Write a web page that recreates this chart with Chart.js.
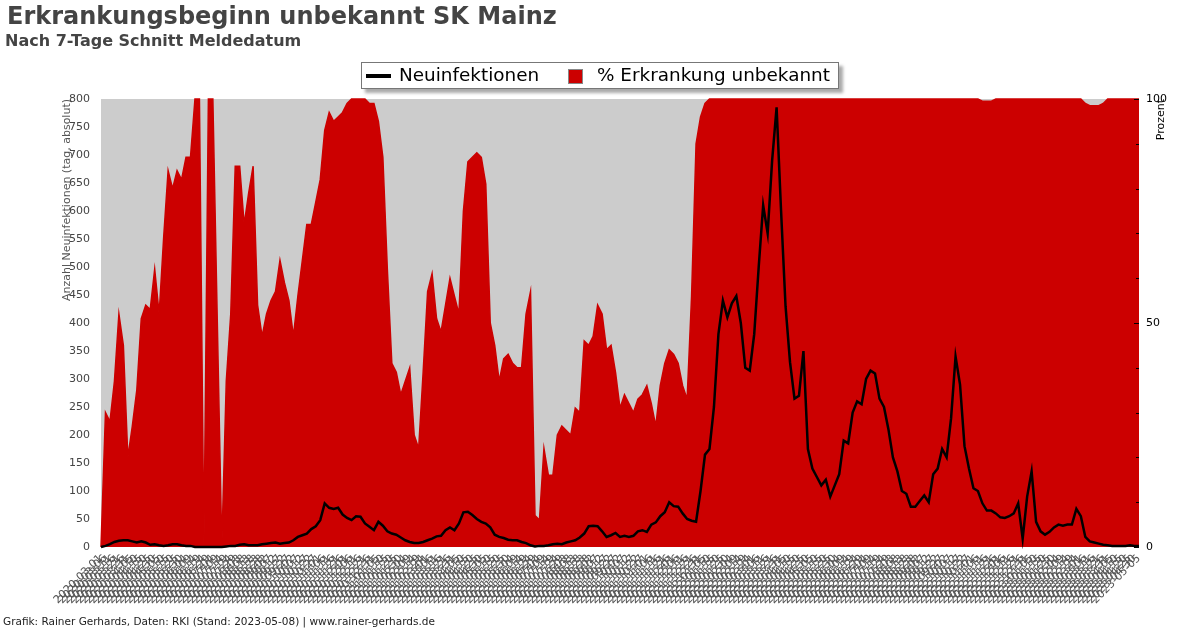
<!DOCTYPE html>
<html>
<head>
<meta charset="utf-8">
<script src="https://cdn.jsdelivr.net/npm/chart.js@4.4.1/dist/chart.umd.min.js"></script>
<style>
  html, body { margin: 0; padding: 0; background: #fff; }
  #wrap { position: relative; width: 1200px; height: 628px; overflow: hidden; font-family: "DejaVu Sans", sans-serif; }
  #chart { position: absolute; left: 0; top: 0; }
  .title { position: absolute; left: 7px; top: 2px; font-size: 24px; line-height: 28px; font-weight: bold; color: #444; white-space: nowrap; }
  .subtitle { position: absolute; left: 5px; top: 31px; font-size: 16px; line-height: 20px; font-weight: bold; color: #444; white-space: nowrap; }
  .footer { position: absolute; left: 3px; top: 615px; font-size: 10.5px; line-height: 12px; color: #222; white-space: nowrap; }
  .legend { position: absolute; left: 361px; top: 62px; width: 476px; height: 25px; background: #fff; border: 1px solid #777; box-shadow: 4px 4px 3px #aaa; font-size: 18.4px; color: #000; }
  .legend .ln { position: absolute; left: 4px; top: 11px; width: 25px; height: 4px; background: #000; }
  .legend .t1 { position: absolute; left: 37px; top: 1px; line-height: 22px; white-space: nowrap; }
  .legend .sq { position: absolute; left: 206px; top: 6px; width: 13px; height: 13px; background: #cc0000; border: 1px solid #888; }
  .legend .t2 { position: absolute; left: 235px; top: 1px; line-height: 22px; white-space: nowrap; }
</style>
</head>
<body>
<div id="wrap">
  <canvas id="chart" width="1200" height="628"></canvas>
  <div class="title">Erkrankungsbeginn unbekannt SK Mainz</div>
  <div class="subtitle">Nach 7-Tage Schnitt Meldedatum</div>
  <div class="legend">
    <div class="ln"></div><div class="t1">Neuinfektionen</div>
    <div class="sq"></div><div class="t2">% Erkrankung unbekannt</div>
  </div>
  <div class="footer">Grafik: Rainer Gerhards, Daten: RKI (Stand: 2023-05-08) | www.rainer-gerhards.de</div>
</div>
<script>
// ---- data (one point every 5 days) ----
const startDate = '2020-03-01';
const stepDays = 5;

const newInfections = [
  0, 2, 5, 9, 11, 12, 12, 10, 8, 10,
  8, 4, 5, 3, 2, 3, 5, 5, 3, 2,
  2, 0, 0, 0, 0, 0, 0, 0, 1, 2,
  2, 4, 5, 3, 3, 3, 5, 6, 7, 8,
  6, 7, 8, 12, 18, 21, 24, 32, 37, 48,
  78, 70, 68, 70, 58, 52, 48, 55, 54, 42,
  36, 30, 45, 38, 28, 24, 22, 17, 12, 9,
  7, 7, 9, 12, 15, 19, 20, 30, 35, 30,
  42, 62, 63, 57, 50, 45, 42, 35, 22, 18,
  16, 13, 12, 12, 9, 7, 3, 1, 2, 2,
  3, 5, 6, 5, 8, 10, 12, 17, 24, 37,
  38, 37, 28, 18, 21, 25, 18, 20, 18, 20,
  28, 30, 27, 40, 44, 55, 62, 80, 73, 72,
  60, 50, 47, 45, 100, 165, 175, 250, 380, 440,
  410, 435, 448, 400, 320, 315, 380, 500, 610, 560,
  690, 785, 600, 430, 330, 265, 270, 350, 175, 140,
  125, 110, 120, 90, 110, 130, 190, 185, 240, 260,
  255, 300, 315, 310, 265, 250, 210, 160, 135, 100,
  95, 72, 72, 82, 92, 80, 130, 140, 175, 160,
  230, 340, 290, 180, 140, 105, 100, 78, 65, 65,
  60, 53, 52, 55, 60, 78, 15, 90, 135, 45,
  28, 22, 27, 35, 40, 38, 40, 40, 68, 55,
  18, 10, 8, 6, 4, 3, 2, 2, 2, 2,
  3, 2, 2
];

const pctUnknown = [
  0, 30, 28, 37, 52, 45, 20, 27, 35, 51,
  54, 53, 62, 52, 69, 84, 80, 84, 82, 87,
  87, 100, 100, 0, 100, 100, 50, 0, 37, 52,
  85, 85, 72, 79, 85, 54, 47, 52, 55, 57,
  64, 59, 55, 47, 56, 64, 72, 72, 77, 82,
  93, 97, 95, 96, 97, 99, 100, 100, 100, 100,
  99, 99, 95, 87, 62, 41, 39, 34, 37, 40,
  25, 22, 39, 57, 61, 51, 48, 54, 60, 56,
  52, 75, 86, 87, 88, 87, 81, 50, 45, 37,
  42, 43, 41, 40, 40, 52, 57, 7, 6, 22,
  16, 16, 25, 27, 26, 25, 31, 30, 46, 45,
  47, 54, 52, 44, 45, 39, 31, 34, 32, 30,
  33, 34, 36, 32, 27, 36, 41, 44, 43, 41,
  36, 33, 56, 90, 96, 99, 100, 100, 100, 100,
  100, 100, 100, 100, 100, 100, 100, 100, 100, 100,
  100, 100, 100, 100, 100, 100, 100, 100, 100, 100,
  100, 100, 100, 100, 100, 100, 100, 100, 100, 100,
  100, 100, 100, 100, 100, 100, 100, 100, 100, 100,
  100, 100, 100, 100, 100, 100, 100, 100, 100, 100,
  100, 100, 100, 100, 100, 100, 100, 99.5, 99.5, 99.5,
  100, 100, 100, 100, 100, 100, 100, 100, 100, 100,
  100, 100, 100, 100, 100, 100, 100, 100, 100, 100,
  99, 98.5, 98.5, 98.5, 99, 100, 100, 100, 100, 100,
  100, 100, 100
];

// category labels: one date per data point
const dateLabels = [];
(function () {
  const d0 = new Date(startDate + 'T00:00:00Z');
  for (let i = 0; i < newInfections.length; i++) {
    const d = new Date(d0.getTime() + i * stepDays * 86400000);
    dateLabels.push(d.toISOString().slice(0, 10));
  }
})();

const leftTicks = [0, 50, 100, 150, 200, 250, 300, 350, 400, 450, 500, 550, 600, 650, 700, 750, 800];
const rightTickLabels = [0, 50, 100];

const plotPlugin = {
  id: 'plotExtras',
  beforeDatasetsDraw(chart) {
    const { ctx, chartArea: a } = chart;
    ctx.save();
    ctx.fillStyle = '#cccccc';
    ctx.fillRect(a.left, a.top, a.right - a.left, a.bottom - a.top);
    ctx.restore();
  },
  afterDatasetsDraw(chart) {
    const { ctx, chartArea: a } = chart;
    const y1 = chart.scales.y1;
    ctx.save();
    ctx.strokeStyle = '#000';
    ctx.lineWidth = 1;
    for (let v = 0; v <= 100; v += 10) {
      const y = Math.round(y1.getPixelForValue(v)) + 0.5;
      const len = v % 50 === 0 ? 5 : 3;
      ctx.beginPath();
      ctx.moveTo(a.right - len, y);
      ctx.lineTo(a.right, y);
      ctx.stroke();
    }
    ctx.translate(1161, a.top);
    ctx.rotate(-Math.PI / 2);
    ctx.textAlign = 'right';
    ctx.textBaseline = 'middle';
    ctx.font = '11px "DejaVu Sans"';
    ctx.fillStyle = '#000';
    ctx.fillText('Prozent', 0, 0);
    ctx.restore();
  }
};

new Chart(document.getElementById('chart'), {
  type: 'line',
  data: {
    labels: dateLabels,
    datasets: [
      {
        label: 'Neuinfektionen',
        data: newInfections,
        yAxisID: 'y',
        borderColor: '#000',
        backgroundColor: '#000',
        borderWidth: 2.5,
        pointRadius: 0,
        tension: 0,
        fill: false,
        clip: false
      },
      {
        label: '% Erkrankung unbekannt',
        data: pctUnknown,
        yAxisID: 'y1',
        borderColor: '#cc0000',
        backgroundColor: '#cc0000',
        borderWidth: 1.5,
        pointRadius: 0,
        tension: 0,
        fill: 'origin',
        clip: false
      }
    ]
  },
  options: {
    responsive: false,
    animation: false,
    devicePixelRatio: 1,
    layout: { padding: { top: 99, left: 0, right: 0, bottom: 0 } },
    plugins: {
      legend: { display: false },
      title: { display: false },
      tooltip: { enabled: false }
    },
    scales: {
      x: {
        type: 'category',
        offset: false,
        grid: { display: false, drawTicks: false },
        border: { display: false },
        ticks: {
          autoSkip: false,
          minRotation: 45,
          maxRotation: 45,
          padding: 5,
          color: '#555',
          font: { family: 'DejaVu Sans', size: 11 }
        },
        afterFit(s) { s.height = 81; }
      },
      y: {
        position: 'left',
        min: 0,
        max: 800,
        grid: { display: false, drawTicks: false },
        border: { display: false },
        afterBuildTicks(s) { s.ticks = leftTicks.map(v => ({ value: v })); },
        ticks: {
          padding: 11,
          color: '#444',
          font: { family: 'DejaVu Sans', size: 11 }
        },
        title: {
          display: true,
          text: 'Anzahl Neuinfektionen (tag, absolut)',
          align: 'end',
          color: '#555',
          font: { family: 'DejaVu Sans', size: 11 },
          padding: { top: 61, bottom: 0 }
        },
        afterFit(s) { s.width = 101; }
      },
      y1: {
        position: 'right',
        min: 0,
        max: 100,
        grid: { display: false, drawTicks: false },
        border: { display: false },
        afterBuildTicks(s) { s.ticks = rightTickLabels.map(v => ({ value: v })); },
        ticks: {
          padding: 7,
          color: '#000',
          font: { family: 'DejaVu Sans', size: 11 }
        },
        afterFit(s) { s.width = 61; }
      }
    }
  },
  plugins: [plotPlugin]
});
</script>
</body>
</html>
